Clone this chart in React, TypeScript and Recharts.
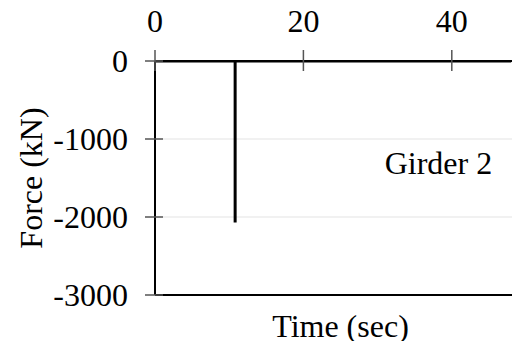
import React from 'react';
import { LineChart, Line, XAxis, YAxis, CartesianGrid, ReferenceDot } from 'recharts';

const times = [0, 10.8, 10.8, 10.8, 48];
const forces = [0, 0, -2070, 0, 0];
const xTicks = [0, 20, 40];
const yTicks = [0, -1000, -2000, -3000];
const annotation = { time: 38.2, force: -1300, text: 'Girder 2' };

const data = times.map((t, i) => ({ t, f: forces[i] }));

const FONT = '"Liberation Serif", "Times New Roman", serif';
const FS = 32;
const textStyle: React.CSSProperties = { fontFamily: FONT, fontSize: FS, fill: '#000' };

const XTick = (props: any) => {
  const { x, y, payload } = props;
  return (
    <g>
      <line x1={x} x2={x} y1={y - 11} y2={y + 10} stroke="#555" strokeWidth={1.5} />
      <text x={x} y={y - 29} textAnchor="middle" style={textStyle}>
        {String(payload.value)}
      </text>
    </g>
  );
};

const YTick = (props: any) => {
  const { x, y, payload } = props;
  return (
    <g>
      <line x1={x - 10} x2={x + 8} y1={y} y2={y} stroke="#555" strokeWidth={1.5} />
      <text x={x - 27} y={y + 10.5} textAnchor="end" style={textStyle}>
        {String(payload.value)}
      </text>
    </g>
  );
};

const YLabel = (props: any) => {
  const vb = props.viewBox;
  const cx = vb.x + 31;
  const cy = vb.y + vb.height / 2;
  return (
    <text
      x={cx}
      y={cy}
      transform={`rotate(-90, ${cx}, ${cy})`}
      dy={11}
      textAnchor="middle"
      style={textStyle}
    >
      Force (kN)
    </text>
  );
};

const XLabel = (props: any) => {
  const vb = props.viewBox;
  const cx = vb.x + vb.width / 2;
  return (
    <text x={cx} y={vb.y + 42} textAnchor="middle" style={textStyle}>
      Time (sec)
    </text>
  );
};

export default function App() {
  return (
    <div style={{ margin: -8, width: 520, height: 349, overflow: 'hidden', background: '#fff' }}>
      <LineChart width={526} height={349} data={data} margin={{ top: 0, right: 0, bottom: 0, left: 0 }}>
        <CartesianGrid vertical={false} stroke="#ececec" strokeWidth={1.5} />
        <XAxis
          dataKey="t"
          type="number"
          orientation="top"
          domain={[0, 50]}
          ticks={xTicks}
          height={61}
          tickSize={0}
          tickMargin={0}
          tickLine={false}
          axisLine={{ stroke: '#000', strokeWidth: 2 }}
          tick={<XTick />}
          allowDataOverflow
        />
        <XAxis
          xAxisId="b"
          dataKey="t"
          type="number"
          orientation="bottom"
          domain={[0, 50]}
          height={54}
          tick={false}
          tickLine={false}
          axisLine={{ stroke: '#000', strokeWidth: 2 }}
          label={<XLabel />}
        />
        <YAxis
          type="number"
          domain={[-3000, 0]}
          ticks={yTicks}
          width={155}
          tickSize={0}
          tickMargin={0}
          tickLine={false}
          axisLine={{ stroke: '#000', strokeWidth: 2 }}
          tick={<YTick />}
          label={<YLabel />}
          allowDataOverflow
        />
        <Line
          dataKey="f"
          type="linear"
          stroke="#000"
          strokeWidth={3}
          dot={false}
          isAnimationActive={false}
        />
        <ReferenceDot
          x={annotation.time}
          y={annotation.force}
          r={0}
          fill="none"
          stroke="none"
          label={{ value: annotation.text, position: 'center', style: textStyle }}
        />
      </LineChart>
    </div>
  );
}
